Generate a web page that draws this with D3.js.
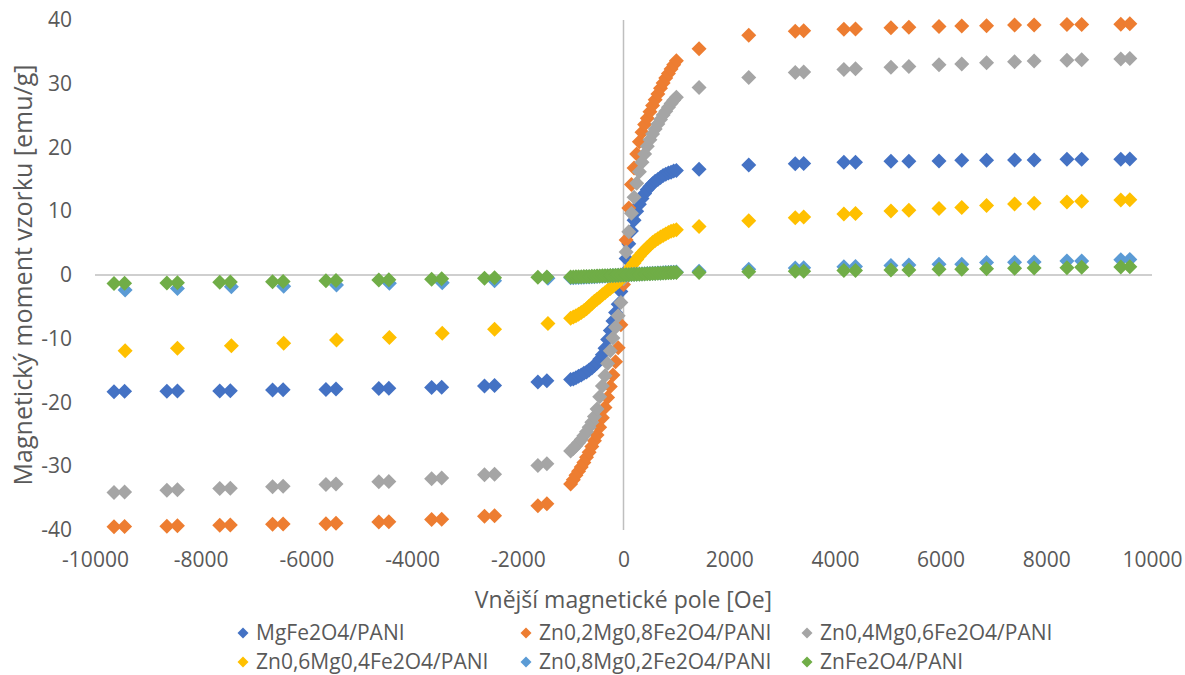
<!DOCTYPE html>
<html>
<head>
<meta charset="utf-8">
<script src="https://cdn.jsdelivr.net/npm/d3@7"></script>
<style>
  body { margin: 0; background: #fff; }
  text { font-family: "Open Sans", sans-serif; fill: #595959; }
</style>
</head>
<body>
<div id="chart"></div>
<script>
// field values [Oe]
const fieldLeftPair = [-9640, -9440, -8640, -8440, -7640, -7440, -6640, -6440, -5630, -5440,
  -4630, -4440, -3630, -3440, -2630, -2440, -1620, -1450];
const fieldLeftSingle = [-9430, -8440, -7420, -6430, -5430, -4430, -3430, -2440, -1430];
const fieldDense = [-1000, -950, -900, -850, -800, -750, -700, -650, -600, -550, -500, -450, -400,
  -350, -300, -250, -200, -150, -100, -50, 0, 50, 100, 150, 200, 250, 300, 350, 400, 450, 500,
  550, 600, 650, 700, 750, 800, 850, 900, 950, 1000];
const fieldRight = [1430, 2370, 3250, 3410, 4170, 4390, 5060, 5400, 5970, 6400, 6870, 7400, 7770,
  8390, 8670, 9410, 9580];

// magnetic moment [emu/g]
const mgFe = [
  -18.3, -18.25, -18.25, -18.2, -18.2, -18.15, -18.05, -18.0, -17.95, -17.9, -17.8, -17.75, -17.65, -17.6, -17.4, -17.35, -16.8, -16.6,
  -16.4, -16.3, -16.1, -15.9, -15.7, -15.4, -15.2, -14.9, -14.6, -14.2, -13.8, -13.2, -12.5, -11.5, -10.1, -8.7, -7.2, -5.9, -4.6, -2.6,
  0.2, 2.6, 4.9, 6.9, 8.6, 10.0, 11.1, 12.0, 12.8, 13.4, 13.9, 14.3, 14.7, 15.0, 15.3, 15.6, 15.8, 16.0, 16.1, 16.3, 16.4,
  16.6, 17.25, 17.45, 17.5, 17.7, 17.7, 17.85, 17.85, 17.9, 18.0, 18.0, 18.05, 18.05, 18.15, 18.15, 18.15, 18.2
];
const zn02 = [
  -39.5, -39.45, -39.4, -39.35, -39.25, -39.2, -39.1, -39.05, -39.0, -38.95, -38.75, -38.7, -38.35, -38.3, -37.85, -37.75, -36.2, -35.9,
  -32.8, -32.1, -31.4, -30.8, -30.1, -29.4, -28.6, -27.8, -26.9, -26.0, -25.1, -23.9, -22.4, -20.8, -19.2, -17.5, -15.7, -13.6, -11.4, -7.8,
  -1.5, 5.5, 10.5, 14.2, 16.8, 19.0, 20.9, 22.4, 23.6, 24.6, 25.6, 26.6, 27.5, 28.4, 29.3, 30.1, 30.9, 31.6, 32.3, 33.0, 33.6,
  35.5, 37.6, 38.25, 38.3, 38.55, 38.6, 38.8, 38.85, 39.0, 39.05, 39.1, 39.2, 39.2, 39.3, 39.3, 39.35, 39.4
];
const zn04 = [
  -34.1, -34.05, -33.75, -33.7, -33.5, -33.45, -33.2, -33.15, -32.85, -32.8, -32.45, -32.4, -31.95, -31.85, -31.35, -31.25, -29.9, -29.6,
  -27.6, -27.2, -26.8, -26.3, -25.8, -25.2, -24.6, -23.9, -23.1, -22.2, -21.0, -19.1, -17.4, -15.8, -13.9, -11.9, -9.9, -8.2, -6.4, -4.3,
  -0.6, 3.6, 6.8, 9.7, 12.2, 14.4, 16.2, 17.7, 19.0, 20.2, 21.2, 22.1, 22.9, 23.7, 24.4, 25.1, 25.7, 26.3, 26.9, 27.4, 27.9,
  29.4, 31.0, 31.75, 31.85, 32.25, 32.35, 32.6, 32.7, 33.0, 33.1, 33.3, 33.45, 33.55, 33.7, 33.75, 33.9, 33.95
];
const zn06 = [
  -11.9, -11.5, -11.1, -10.7, -10.2, -9.8, -9.15, -8.5, -7.6,
  -6.8, -6.6, -6.4, -6.15, -5.9, -5.6, -5.3, -4.9, -4.5, -4.1, -3.8, -3.5, -3.1, -2.8, -2.45, -2.1, -1.75, -1.4, -1.05, -0.65,
  -0.25, 0.3, 0.85, 1.4, 1.9, 2.45, 3.0, 3.45, 3.9, 4.3, 4.7, 5.1, 5.4, 5.7, 5.95, 6.2, 6.45, 6.65, 6.85, 7.0, 7.1,
  7.6, 8.5, 9.0, 9.1, 9.55, 9.65, 10.05, 10.15, 10.45, 10.6, 10.9, 11.15, 11.25, 11.45, 11.55, 11.75, 11.8
];
const zn08 = [
  -2.35, -2.1, -1.85, -1.75, -1.55, -1.3, -1.2, -0.9, -0.5,
  -0.45, -0.43, -0.41, -0.39, -0.37, -0.35, -0.33, -0.31, -0.28, -0.26, -0.24, -0.21, -0.19, -0.16, -0.14, -0.11, -0.09, -0.07, -0.05, -0.03,
  0.0, 0.03, 0.05, 0.08, 0.1, 0.12, 0.15, 0.17, 0.2, 0.22, 0.24, 0.27, 0.29, 0.31, 0.33, 0.36, 0.38, 0.4, 0.42, 0.44, 0.46,
  0.6, 0.9, 1.1, 1.15, 1.3, 1.35, 1.5, 1.55, 1.7, 1.7, 1.95, 2.0, 2.05, 2.2, 2.2, 2.4, 2.45
];
const znFe = [
  -1.35, -1.3, -1.25, -1.2, -1.15, -1.1, -1.05, -1.0, -0.9, -0.85, -0.8, -0.75, -0.65, -0.6, -0.5, -0.45, -0.35, -0.3,
  -0.32, -0.31, -0.29, -0.28, -0.26, -0.25, -0.23, -0.22, -0.2, -0.18, -0.17, -0.15, -0.13, -0.11, -0.1, -0.08, -0.06, -0.04, -0.03, -0.01,
  0.0, 0.02, 0.04, 0.06, 0.08, 0.1, 0.12, 0.14, 0.16, 0.18, 0.2, 0.22, 0.24, 0.26, 0.28, 0.3, 0.32, 0.34, 0.36, 0.38, 0.4,
  0.4, 0.5, 0.6, 0.6, 0.7, 0.7, 0.8, 0.8, 0.9, 0.9, 1.0, 1.05, 1.1, 1.15, 1.2, 1.25, 1.3
];

const seriesNames = ["MgFe2O4/PANI", "Zn0,2Mg0,8Fe2O4/PANI", "Zn0,4Mg0,6Fe2O4/PANI",
  "Zn0,6Mg0,4Fe2O4/PANI", "Zn0,8Mg0,2Fe2O4/PANI", "ZnFe2O4/PANI"];
const seriesColors = ["#4472C4", "#ED7D31", "#A5A5A5", "#FFC000", "#5B9BD5", "#70AD47"];
const xTicks = [-10000, -8000, -6000, -4000, -2000, 0, 2000, 4000, 6000, 8000, 10000];
const yTicks = [-40, -30, -20, -10, 0, 10, 20, 30, 40];

const fieldPair = fieldLeftPair.concat(fieldDense, fieldRight);
const fieldSingle = fieldLeftSingle.concat(fieldDense, fieldRight);
const seriesX = [fieldPair, fieldPair, fieldPair, fieldSingle, fieldSingle, fieldPair];
const seriesY = [mgFe, zn02, zn04, zn06, zn08, znFe];

const width = 1185, height = 675;
const plotLeft = 95, plotRight = 1152, plotTop = 20, plotBottom = 530;

const svg = d3.select("#chart").append("svg")
  .attr("width", width)
  .attr("height", height);

const x = d3.scaleLinear().domain([-10000, 10000]).range([plotLeft, plotRight]);
const y = d3.scaleLinear().domain([-40, 40]).range([plotBottom, plotTop]);

// diamond marker, r = half diagonal
function diamond(r) {
  return `M0,${-r}L${r},0L0,${r}L${-r},0Z`;
}

// plain hyphen minus like Excel
const plainFormat = d => String(d);

// tick labels (axis labels sit low / left like in Excel)
svg.append("g")
  .attr("transform", `translate(0,${plotBottom})`)
  .call(d3.axisBottom(x).tickValues(xTicks).tickSize(0).tickPadding(22).tickFormat(plainFormat))
  .call(g => g.select(".domain").remove())
  .selectAll("text")
  .style("font-size", "21px")
  .style("font-family", "Open Sans, sans-serif")
  .attr("fill", "#595959");

svg.append("g")
  .attr("transform", `translate(${plotLeft},0)`)
  .call(d3.axisLeft(y).tickValues(yTicks).tickSize(0).tickPadding(23).tickFormat(plainFormat))
  .call(g => g.select(".domain").remove())
  .selectAll("text")
  .style("font-size", "21px")
  .style("font-family", "Open Sans, sans-serif")
  .attr("fill", "#595959");

// zero axes
svg.append("line")
  .attr("x1", plotLeft).attr("x2", plotRight)
  .attr("y1", y(0)).attr("y2", y(0))
  .attr("stroke", "#BFBFBF").attr("stroke-width", 1.5);
svg.append("line")
  .attr("x1", x(0)).attr("x2", x(0))
  .attr("y1", plotTop).attr("y2", plotBottom)
  .attr("stroke", "#BFBFBF").attr("stroke-width", 1.5);

// points
seriesY.forEach((vals, i) => {
  const pts = vals.map((v, j) => [seriesX[i][j], v]);
  svg.append("g")
    .selectAll("path")
    .data(pts)
    .join("path")
    .attr("d", diamond(7.5))
    .attr("transform", d => `translate(${x(d[0])},${y(d[1])})`)
    .attr("fill", seriesColors[i]);
});

// axis titles
svg.append("text")
  .attr("x", (plotLeft + plotRight) / 2)
  .attr("y", 608)
  .attr("text-anchor", "middle")
  .style("font-size", "23px")
  .text("Vnější magnetické pole [Oe]");

svg.append("text")
  .attr("transform", `translate(32,${(plotTop + plotBottom) / 2}) rotate(-90)`)
  .attr("text-anchor", "middle")
  .style("font-size", "25px")
  .text("Magnetický moment vzorku [emu/g]");

// legend
const legendX = [243, 526, 807];
const legendY = [633, 662];
const legend = svg.append("g")
  .selectAll("g")
  .data(seriesNames)
  .join("g")
  .attr("transform", (d, i) => `translate(${legendX[i % 3]},${legendY[Math.floor(i / 3)]})`);
legend.append("path")
  .attr("d", diamond(5.5))
  .attr("fill", (d, i) => seriesColors[i]);
legend.append("text")
  .attr("x", 13)
  .attr("dy", "0.35em")
  .style("font-size", "21px")
  .text(d => d);
</script>
</body>
</html>
